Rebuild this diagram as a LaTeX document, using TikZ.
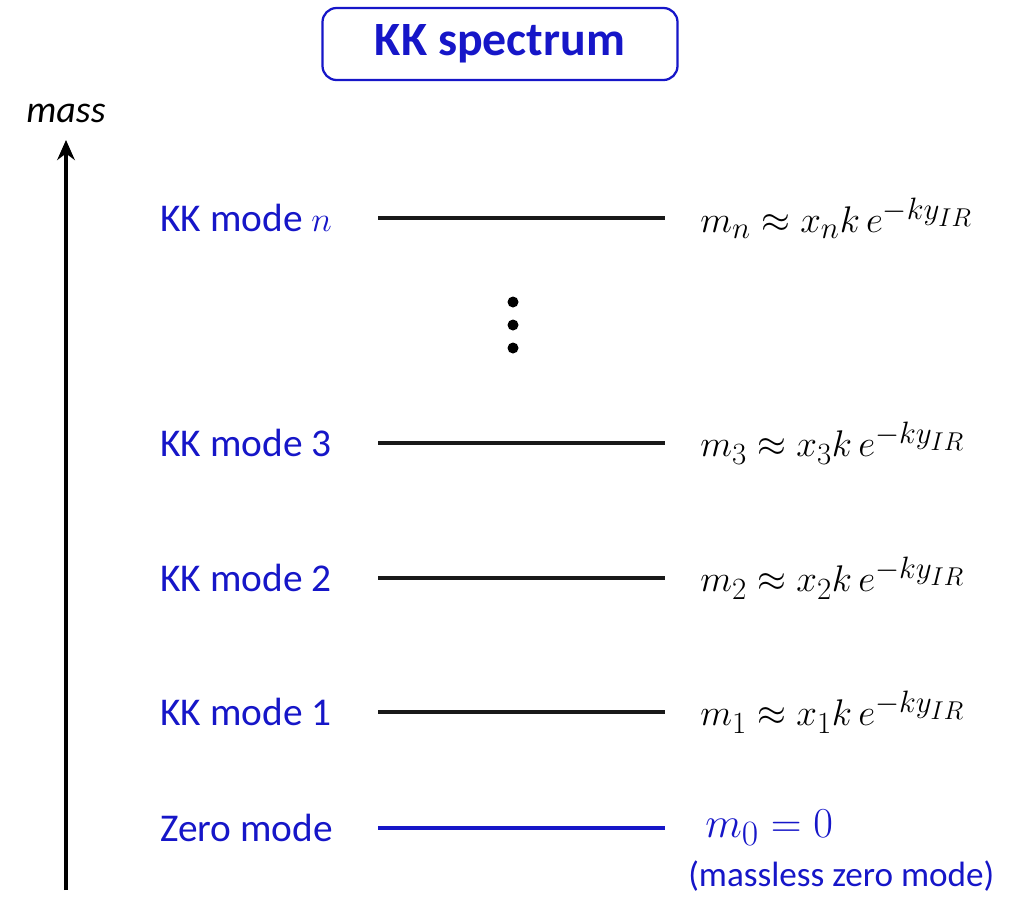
\documentclass[tikz,border=0pt]{standalone}
\usepackage{amsmath,amssymb}
\usepackage{graphicx}
\usepackage{fontspec}
\setmainfont{Carlito}
\usepackage{xcolor}
\usetikzlibrary{arrows.meta,positioning}

\definecolor{kkblue}{RGB}{22,22,200}

\begin{document}
\begin{tikzpicture}[
  x=0.025cm, y=-0.025cm,
  lab/.style={anchor=west, inner sep=0pt, text=kkblue, font=\fontsize{28}{31}\selectfont},
  frm/.style={anchor=west, inner sep=0pt, font=\fontsize{24.88}{28}\selectfont},
  title/.style={draw=kkblue, line width=1.6pt, rounded corners=10pt, text=kkblue,
    minimum width=355*0.025cm, minimum height=72*0.025cm, font=\fontsize{34}{37}\selectfont\bfseries},
  lvl/.style={line width=2.8pt, black!90},
  arr/.style={-{Stealth[length=5mm, width=4.4mm]}, line width=2.4pt}
]
\useasboundingbox (0,0) rectangle (1020,897);
% title
\node[title] (ttl) at (500,44) {KK spectrum};
% axis
\coordinate (axbot) at (66,890);
\coordinate (axtop) at (66,140);
\draw[arr] (axbot) -- (axtop);
\node[font=\fontsize{27}{30}\selectfont\itshape, inner sep=0pt] (mass) at (66,113) {mass};
% levels
\foreach \nm/\y/\txt/\f in {
  n/218/{KK mode $n$}/{$m_n \approx x_n k\, e^{-k y_{IR}}$},
  c/443/{KK mode 3}/{$m_3 \approx x_3 k\, e^{-k y_{IR}}$},
  b/578/{KK mode 2}/{$m_2 \approx x_2 k\, e^{-k y_{IR}}$},
  a/712/{KK mode 1}/{$m_1 \approx x_1 k\, e^{-k y_{IR}}$}} {
  \node[lab] (lab\nm) at (160,\y) {\txt};
  \coordinate (l\nm) at (378,\y);
  \coordinate (r\nm) at (665,\y);
  \draw[lvl] (l\nm) -- (r\nm);
  \node[frm] (frm\nm) at (700,\y) {\scalebox{1.06}{\f}};
}
% zero mode
\node[lab] (lab0) at (160,828) {Zero mode};
\coordinate (l0) at (378,828);
\coordinate (r0) at (665,828);
\draw[lvl, kkblue] (l0) -- (r0);
\node[frm, text=kkblue] (frm0) at (705,828) {\scalebox{1.22}{$m_0 = 0$}};
\node[lab, font=\fontsize{25}{28}\selectfont] (note0) at (688,876) {(massless zero mode)};
% dots
\foreach \y in {302,325,348} \fill (513,\y) circle (5.5);
\end{tikzpicture}
\end{document}
